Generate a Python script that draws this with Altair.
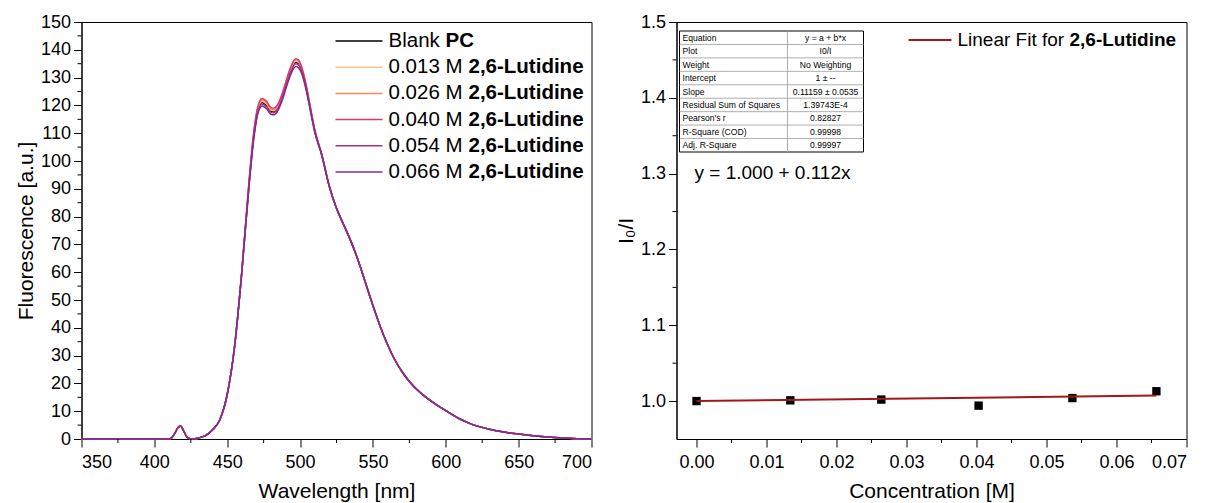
import altair as alt
import pandas as pd

FONT = "Liberation Sans"
W, H = 510, 417

# ---------------- left panel: fluorescence spectra ----------------
wl_rise = [350, 360, 370, 380, 390, 400, 405, 410, 412, 414, 416, 418, 420, 422, 424, 426,
           430, 435, 440, 445, 450, 455, 460]
fl_rise = [0, 0, 0, 0, 0, 0, 0, 0, 0.5, 2.0, 4.0, 4.7, 3.0, 1.0, 0.2, 0,
           0.3, 1.2, 3.3, 7.0, 16, 33, 60]
wl_peak = [465, 468, 471, 474, 477, 480, 482, 485, 488, 491, 494, 497, 499, 501, 504, 507, 510]
wl_tail = [515, 520, 525, 530, 535, 540, 545, 550, 555, 560, 565, 570, 575, 580, 585, 590,
           595, 600, 605, 610, 615, 620, 630, 640, 650, 660, 670, 680, 690, 700]
fl_tail = [102, 91, 83, 77, 71, 64, 56, 48, 40.5, 34, 28.5, 24.2, 20.7, 17.9, 15.6, 13.6,
           11.8, 10.2, 8.6, 7.1, 5.9, 4.9, 3.5, 2.5, 1.8, 1.2, 0.7, 0.35, 0.12, 0]

peak_blank = [92, 108, 118, 121.0, 120.0, 118.0, 117.8, 119.5, 123.5, 128.5, 133.0, 135.5, 135.0, 133.0, 127.0, 119.0, 111.0]
peak_013 = [92, 108.5, 118.5, 121.5, 120.5, 118.3, 118.1, 119.8, 123.8, 129.0, 133.5, 136.0, 135.5, 133.3, 127.3, 119.2, 111.2]
peak_026 = [92.5, 109, 119, 122.0, 121.0, 118.8, 118.5, 120.2, 124.3, 129.5, 134.0, 136.5, 136.0, 133.8, 127.6, 119.5, 111.4]
peak_040 = [93, 109.5, 119.5, 122.5, 121.5, 119.2, 119.0, 120.6, 124.6, 129.8, 134.3, 136.8, 136.3, 134.0, 127.8, 119.6, 111.5]
peak_054 = [91.5, 107.5, 117.5, 120.5, 119.5, 117.5, 117.3, 119.0, 123.0, 128.0, 132.5, 135.0, 134.5, 132.5, 126.6, 118.7, 110.8]
peak_066 = [91, 107, 117, 119.8, 118.8, 116.8, 116.6, 118.3, 122.2, 127.2, 131.6, 134.0, 133.5, 131.6, 125.9, 118.3, 110.5]

series_peaks = [peak_blank, peak_013, peak_026, peak_040, peak_054, peak_066]
series_colors = ["#000000", "#FBC58A", "#F58B5A", "#D8386A", "#A8307E", "#7E2E94"]
legend_regular = ["Blank", "0.013 M", "0.026 M", "0.040 M", "0.054 M", "0.066 M"]
legend_bold = ["PC", "2,6-Lutidine", "2,6-Lutidine", "2,6-Lutidine", "2,6-Lutidine", "2,6-Lutidine"]

left_x_ticks = [350, 400, 450, 500, 550, 600, 650, 700]
left_x_minor = [375, 425, 475, 525, 575, 625, 675]
left_y_ticks = list(range(0, 151, 10))
left_y_minor = [5, 15, 25, 35, 45, 55, 65, 75, 85, 95, 105, 115, 125, 135, 145]

# ---------------- right panel: Stern-Volmer ----------------
conc = [0.0, 0.0134, 0.0264, 0.0403, 0.0537, 0.0657]
ratio = [1.000, 1.001, 1.002, 0.994, 1.004, 1.013]
fit_conc = [0.0, 0.0657]
fit_ratio = [1.000, 1.0073]

right_x_ticks = [0.0, 0.01, 0.02, 0.03, 0.04, 0.05, 0.06, 0.07]
right_x_minor = [0.005, 0.015, 0.025, 0.035, 0.045, 0.055, 0.065]
right_y_ticks = [1.0, 1.1, 1.2, 1.3, 1.4, 1.5]
right_y_minor = [1.05, 1.15, 1.25, 1.35, 1.45]

table_labels = ["Equation", "Plot", "Weight", "Intercept", "Slope", "Residual Sum of Squares",
                "Pearson's r", "R-Square (COD)", "Adj. R-Square"]
table_values = ["y = a + b*x", "I0/I", "No Weighting", "1 \u00b1 --", "0.11159 \u00b1 0.0535",
                "1.39743E-4", "0.82827", "0.99998", "0.99997"]

ONE = pd.DataFrame({"k": [0]})


def vtext(txt, x, y, size, bold=False, align="left"):
    return alt.Chart(ONE).mark_text(
        align=align, baseline="middle", font=FONT, fontSize=size,
        fontWeight="bold" if bold else "normal", color="black", text=txt,
    ).encode(x=alt.value(x), y=alt.value(y))


def hrule(x1, x2, y, color, width):
    return alt.Chart(ONE).mark_rule(color=color, strokeWidth=width).encode(
        x=alt.value(x1), x2=alt.value(x2), y=alt.value(y))


def vrule(x, y1, y2, color, width):
    return alt.Chart(ONE).mark_rule(color=color, strokeWidth=width).encode(
        x=alt.value(x), y=alt.value(y1), y2=alt.value(y2))


# ================= left chart =================
lx_scale = alt.Scale(domain=[350, 700], nice=False, zero=False)
ly_scale = alt.Scale(domain=[0, 150], nice=False, zero=False)
lx_axis = alt.Axis(title="Wavelength [nm]", values=left_x_ticks, format="d",
                   labelPadding=6, titlePadding=9)
ly_axis = alt.Axis(title="Fluorescence [a.u.]", values=left_y_ticks, format="d",
                   labelPadding=3, titlePadding=4)

left_layers = []
wl_all = wl_rise + wl_peak + wl_tail
for pk, col in zip(series_peaks, series_colors):
    df = pd.DataFrame({"wl": wl_all, "val": fl_rise + pk + fl_tail})
    left_layers.append(
        alt.Chart(df).mark_line(color=col, strokeWidth=1.5, interpolate="monotone").encode(
            x=alt.X("wl:Q", scale=lx_scale, axis=lx_axis),
            y=alt.Y("val:Q", scale=ly_scale, axis=ly_axis),
        )
    )

left_layers.append(
    alt.Chart(pd.DataFrame({"wl": left_x_minor})).mark_rule(color="black", strokeWidth=1).encode(
        x=alt.X("wl:Q", scale=lx_scale, axis=lx_axis), y=alt.value(H), y2=alt.value(H + 4))
)
left_layers.append(
    alt.Chart(pd.DataFrame({"val": left_y_minor})).mark_rule(color="black", strokeWidth=1).encode(
        y=alt.Y("val:Q", scale=ly_scale, axis=ly_axis), x=alt.value(0), x2=alt.value(-4))
)

leg_y = [19, 45.2, 71.4, 97.6, 123.8, 150]
for i in range(6):
    left_layers.append(hrule(254, 301, leg_y[i], series_colors[i], 1.5))
    left_layers.append(vtext(legend_regular[i], 307, leg_y[i], 20.5))
    left_layers.append(vtext(legend_bold[i], 364 if i == 0 else 387, leg_y[i], 20.5, bold=True))

left = alt.layer(*left_layers).properties(width=W, height=H)

# ================= right chart =================
rx_scale = alt.Scale(domain=[-0.00286, 0.07], nice=False, zero=False)
ry_scale = alt.Scale(domain=[0.95, 1.5], nice=False, zero=False)
rx_axis = alt.Axis(title="Concentration [M]", values=right_x_ticks, format=".2f",
                   labelPadding=6, titlePadding=9)
ry_axis = alt.Axis(title="I\u2080/I", values=right_y_ticks, format=".1f",
                   labelPadding=3, titlePadding=4)

pts_df = pd.DataFrame({"c": conc, "r": ratio})
fit_df = pd.DataFrame({"c": fit_conc, "r": fit_ratio})

right_layers = [
    alt.Chart(pts_df).mark_square(size=70, color="black", opacity=1).encode(
        x=alt.X("c:Q", scale=rx_scale, axis=rx_axis),
        y=alt.Y("r:Q", scale=ry_scale, axis=ry_axis)),
    alt.Chart(fit_df).mark_line(color="#A01818", strokeWidth=2).encode(
        x=alt.X("c:Q", scale=rx_scale, axis=rx_axis),
        y=alt.Y("r:Q", scale=ry_scale, axis=ry_axis)),
    alt.Chart(pd.DataFrame({"c": right_x_minor})).mark_rule(color="black", strokeWidth=1).encode(
        x=alt.X("c:Q", scale=rx_scale, axis=rx_axis), y=alt.value(H), y2=alt.value(H + 4)),
    alt.Chart(pd.DataFrame({"r": right_y_minor})).mark_rule(color="black", strokeWidth=1).encode(
        y=alt.Y("r:Q", scale=ry_scale, axis=ry_axis), x=alt.value(0), x2=alt.value(-4)),
]

# legend
right_layers.append(hrule(232, 275, 18, "#A01818", 2))
right_layers.append(vtext("Linear Fit for", 281, 18, 19))
right_layers.append(vtext("2,6-Lutidine", 393, 18, 19, bold=True))
# equation
right_layers.append(vtext("y = 1.000 + 0.112x", 18, 151, 19))

# table
T_TOP, T_BOT, T_L, T_R, T_MID = 9, 130, 3, 187, 111
row_h = (T_BOT - T_TOP) / len(table_labels)
right_layers.append(
    alt.Chart(ONE).mark_rect(fill="white", stroke="black", strokeWidth=1).encode(
        x=alt.value(T_L), x2=alt.value(T_R), y=alt.value(T_TOP), y2=alt.value(T_BOT)))
for i in range(1, len(table_labels)):
    right_layers.append(hrule(T_L, T_R, T_TOP + row_h * i, "#9a9a9a", 0.8))
right_layers.append(vrule(T_MID, T_TOP, T_BOT, "#9a9a9a", 0.8))
for i in range(len(table_labels)):
    yc = T_TOP + row_h * (i + 0.5)
    right_layers.append(vtext(table_labels[i], T_L + 3, yc, 8.6))
    right_layers.append(vtext(table_values[i], (T_MID + T_R) / 2, yc, 8.6, align="center"))

right = alt.layer(*right_layers).properties(width=W, height=H)

chart = (
    alt.hconcat(left, right, spacing=19)
    .properties(padding={"left": 6.5, "top": 4, "right": 0, "bottom": 0})
    .configure_view(stroke="black", strokeWidth=1)
    .configure_axis(
        domainColor="black", tickColor="black", labelColor="black", titleColor="black",
        labelFont=FONT, titleFont=FONT, labelFontSize=18, titleFontSize=21,
        titleFontWeight="normal", tickSize=8, grid=False, domainWidth=1, tickWidth=1,
    )
)

chart.save("out.html", embed_options={"renderer": "svg", "actions": False})
